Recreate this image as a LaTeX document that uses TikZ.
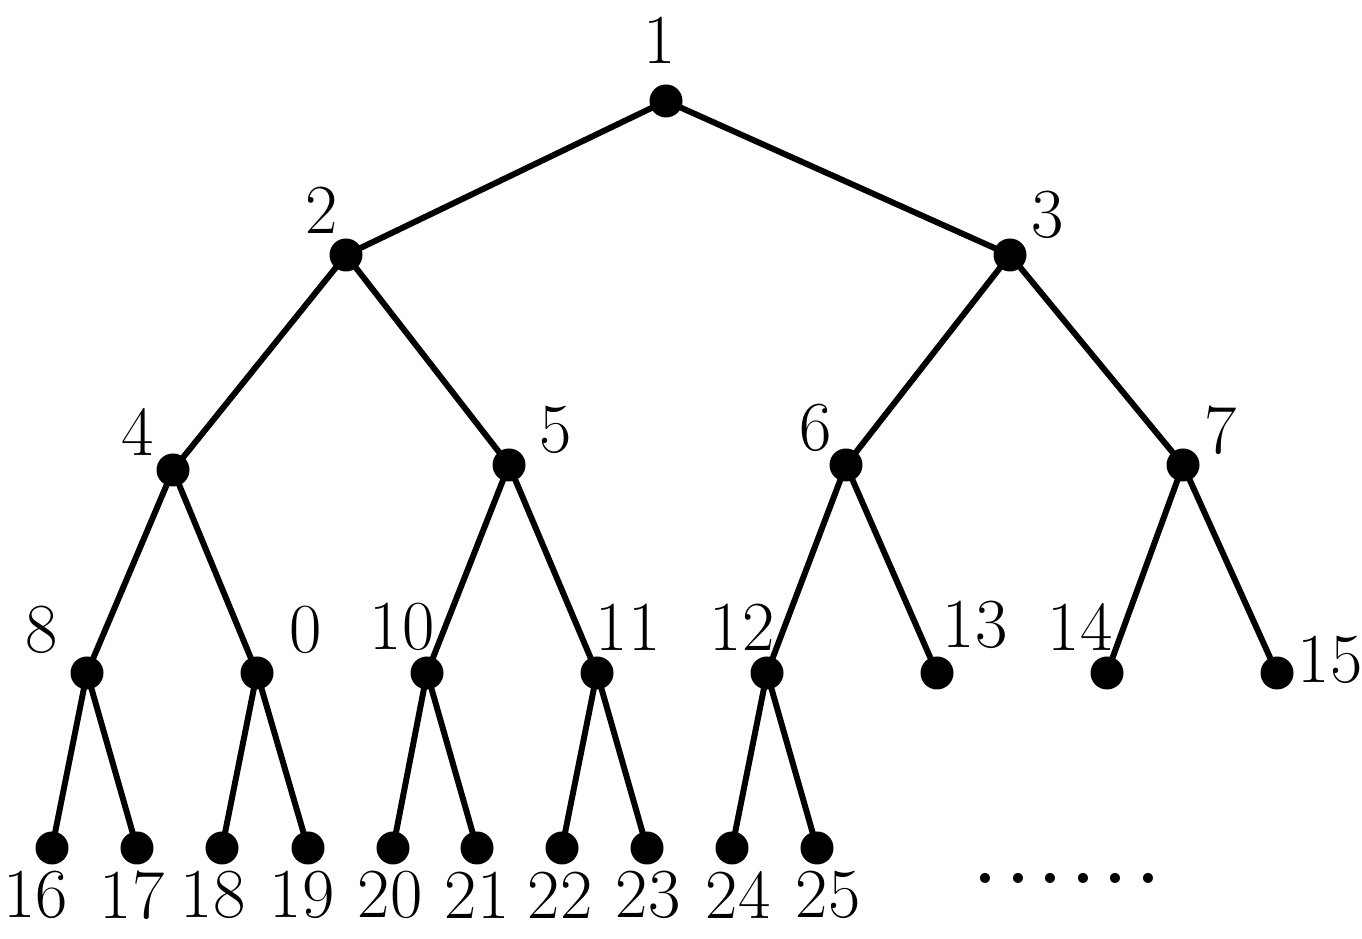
\documentclass[tikz,border=0pt]{standalone}
\begin{document}
\begin{tikzpicture}[every node/.append style={inner sep=0pt, font=\fontsize{20}{24}\selectfont},
		vtx/.style={circle, fill=black, minimum size=0.33cm},
		edge/.style={line width=1.7pt}]
			\useasboundingbox (0,0) rectangle (13.62,9.39);
			
			\node[vtx] (n1) at (6.66,8.38) {};
			\node[vtx] (n2) at (3.46,6.84) {};   \node[vtx] (n3) at (10.10,6.84) {};
			\node[vtx] (n4) at (1.73,4.69) {};   \node[vtx] (n5) at (5.09,4.74) {};
			\node[vtx] (n6) at (8.46,4.74) {};   \node[vtx] (n7) at (11.83,4.74) {};
			
			\foreach \i/\x in {8/0.87, 9/2.57, 10/4.27, 11/5.97, 12/7.67, 13/9.37, 14/11.07, 15/12.77}
				\node[vtx] (n\i) at (\x,2.66) {};
			\foreach \i/\x in {16/0.52, 17/1.37, 18/2.22, 19/3.08, 20/3.93, 21/4.77, 22/5.62, 23/6.47, 24/7.32, 25/8.17}
				\node[vtx] (n\i) at (\x,0.91) {};
			
				\node (l1) at (6.60,8.99) {1};
				\node (l2) at (3.22,7.29) {2};    \node (l3) at (10.48,7.24) {3};
			\node (l4) at (1.38,5.07) {4};    \node (l5) at (5.56,5.09) {5};
			\node (l6) at (8.16,5.11) {6};    \node (l7) at (12.21,5.09) {7};
			\node (l8) at (0.42,3.09) {8};    \node (l9) at (3.06,3.09) {0};
			\node (l10) at (4.02,3.12) {10};  \node (l11) at (6.28,3.12) {11};
			\node (l12) at (7.42,3.12) {12};  \node (l13) at (9.75,3.14) {13};
			\node (l14) at (10.80,3.12) {14}; \node (l15) at (13.30,2.79) {15};
			
			\foreach \i/\x in {16/0.36, 17/1.32, 18/2.13, 19/3.02, 20/3.90, 21/4.77, 22/5.60, 23/6.48, 24/7.38, 25/8.28}
				\node (l\i) at (\x,0.44) {\i};
			
			\node[font=\fontsize{20}{24}\selectfont\bfseries] (more) at (10.67,0.61)
				{.\kern3pt.\kern3pt.\kern3pt.\kern3pt.\kern3pt.};
			
			\foreach \p/\c in {1/2, 1/3, 2/4, 2/5, 3/6, 3/7, 4/8, 4/9, 5/10, 5/11, 6/12, 6/13, 7/14, 7/15,
				8/16, 8/17, 9/18, 9/19, 10/20, 10/21, 11/22, 11/23, 12/24, 12/25}
				\draw[edge] (n\p.center) -- (n\c.center);
		\end{tikzpicture}
\end{document}
